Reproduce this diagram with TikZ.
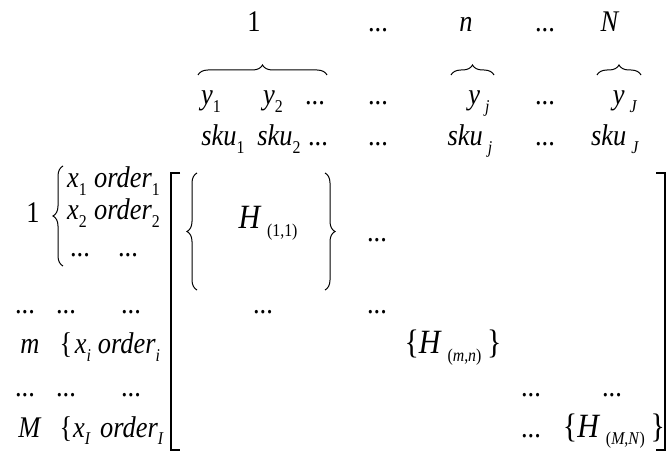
\documentclass[tikz,border=0pt]{standalone}
\usepackage{fontspec}
\setmainfont{Liberation Serif}[FakeStretch=0.88]
\usetikzlibrary{decorations.pathreplacing}
\newcommand{\iv}[1]{\textit{#1}}
\newcommand{\sbs}[1]{\raisebox{-0.26em}{\fontsize{18}{18}\selectfont #1}}
\newcommand{\sbh}[1]{\raisebox{-0.22em}{\fontsize{18}{18}\selectfont #1}}
\begin{document}
\begin{tikzpicture}[x=1pt,y=-1pt,
  txt/.style={anchor=base,inner sep=0pt,font=\fontsize{30}{34}\selectfont},
  htxt/.style={anchor=base,inner sep=0pt,font=\fontsize{34}{38}\selectfont},
  brc/.style={decorate,decoration={brace,amplitude=#1},line width=1pt},
  brc/.default=10,
  bkt/.style={line width=1.1pt}]
\useasboundingbox (0,0) rectangle (667,454);
% top row
\node[txt] (c1) at (254,32) {1};
\node[txt] (cd1) at (378,32) {...};
\node[txt] (cn) at (466,32) {\iv{n}};
\node[txt] (cd2) at (545,32) {...};
\node[txt] (cN) at (610,32) {\iv{N}};
% overbraces
\draw[brc] (198,75) -- (327,75);
\draw[brc] (451,75) -- (494,75);
\draw[brc] (597,75) -- (641,75);
% y row
\node[txt] (y1) at (211,105) {\iv{y}\sbs{1}};
\node[txt] (y2) at (273,105) {\iv{y}\sbs{2}};
\node[txt] (yd0) at (315,105) {...};
\node[txt] (yd1) at (378,105) {...};
\node[txt] (yj) at (479,105) {\iv{y}\,\sbs{\iv{j}}};
\node[txt] (yd2) at (545,105) {...};
\node[txt] (yJ) at (625,105) {\iv{y}\,\sbs{\iv{J}}};
% sku row
\node[txt] (s1) at (223,146) {\iv{sku}\sbs{1}};
\node[txt] (s2) at (279,146) {\iv{sku}\sbs{2}};
\node[txt] (sd0) at (318,146) {...};
\node[txt] (sd1) at (378,146) {...};
\node[txt] (sj) at (470,146) {\iv{sku}\,\sbs{\iv{j}}};
\node[txt] (sd2) at (545,146) {...};
\node[txt] (sJ) at (615,146) {\iv{sku}\,\sbs{\iv{J}}};
% left block 1
\node[txt] (r1) at (33,223) {1};
\draw[brc] (63,266) -- (63,166);
\node[txt] (x1) at (77,188) {\iv{x}\sbs{1}};
\node[txt] (o1) at (127,188) {\iv{order}\sbs{1}};
\node[txt] (x2) at (77,220) {\iv{x}\sbs{2}};
\node[txt] (o2) at (127,220) {\iv{order}\sbs{2}};
\node[txt] (xd) at (80,257) {...};
\node[txt] (od) at (128,257) {...};
% dots row
\node[txt] (rd1) at (25,314) {...};
\node[txt] (xd2) at (66,314) {...};
\node[txt] (od2) at (131,314) {...};
% m row
\node[txt] (rm) at (30,354) {\iv{m}};
\node[txt] (bm) at (66,354) {\{};
\node[txt] (xi) at (83,354) {\iv{x}\sbs{\iv{i}}};
\node[txt] (oi) at (129,354) {\iv{order}\sbs{\iv{i}}};
% dots row 2
\node[txt] (rd2) at (25,396) {...};
\node[txt] (xd3) at (66,396) {...};
\node[txt] (od3) at (131,396) {...};
% M row
\node[txt] (rM) at (30,437) {\iv{M}};
\node[txt] (bM) at (66,437) {\{};
\node[txt] (xI) at (82,437) {\iv{x}\sbs{\iv{I}}};
\node[txt] (oI) at (132,437) {\iv{order}\sbs{\iv{I}}};
% big bracket
\draw[bkt] (180,173) -- (171,173) -- (171,450) -- (180,450);
\draw[bkt] (656,173) -- (665,173) -- (665,450) -- (656,450);
% H(1,1) block
\draw[brc] (197,290) -- (197,173);
\draw[brc] (325,173) -- (325,290);
\node[htxt] (H11) at (268,229) {\iv{H}\,\sbh{(1,1)}};
\node[txt] (hd1) at (377,242) {...};
\node[txt] (hd2) at (263,314) {...};
\node[txt] (hd3) at (377,314) {...};
% H(m,n)
\node[htxt] (Hmn) at (453,354) {\{\iv{H}\,\sbh{(\iv{m},\iv{n})}\,\}};
% lower right
\node[txt] (rd3) at (531,396) {...};
\node[txt] (rd4) at (612,396) {...};
\node[txt] (rd5) at (531,437) {...};
\node[htxt] (HMN) at (614,437) {\{\iv{H}\,\sbh{(\iv{M},\iv{N})}\,\}};
\end{tikzpicture}
\end{document}
